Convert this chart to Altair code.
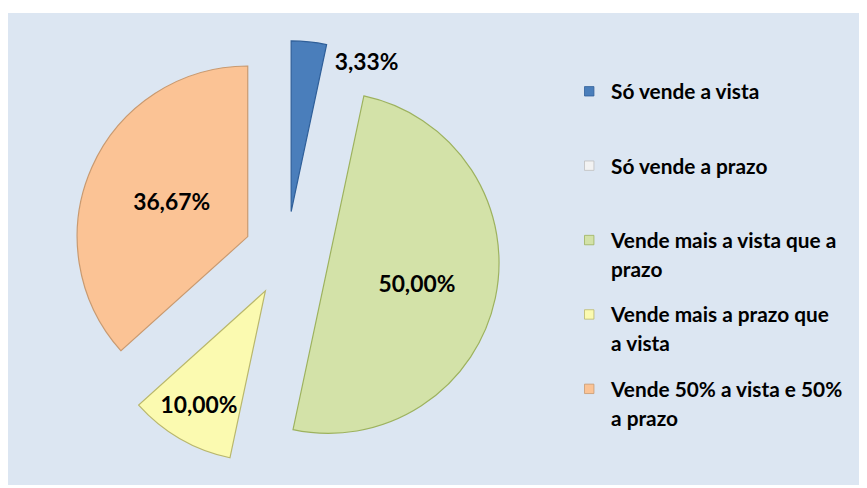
import altair as alt
import pandas as pd

# ---- data ----
categories = [
    "Só vende a vista",
    "Só vende a prazo",
    "Vende mais a vista que a prazo",
    "Vende mais a prazo que a vista",
    "Vende 50% a vista e 50% a prazo",
]
legend_text = [
    "Só vende a vista",
    "Só vende a prazo",
    "Vende mais a vista que a\nprazo",
    "Vende mais a prazo que\na vista",
    "Vende 50% a vista e 50%\na prazo",
]
values = [3.33, 0.0, 50.00, 10.00, 36.67]
value_labels = ["3,33%", "0,00%", "50,00%", "10,00%", "36,67%"]

# ---- styles ----
fills = ["#4a7ebb", "#f2f2f2", "#d3e2a8", "#fbfab0", "#fbc395"]
edges = ["#2f5f99", "#bfbfbf", "#9db25e", "#b9b76c", "#c99a70"]

df = pd.DataFrame({
    "cat": categories,
    "leg": legend_text,
    "value": values,
    "lab": value_labels,
    "i": list(range(len(categories))),
})

CX, CY, EXPLODE, R = 281, 243, 43, 172

base = alt.Chart(df).transform_window(
    cum="sum(value)", sort=[alt.SortField("i")], frame=[None, 0]
).transform_joinaggregate(
    total="sum(value)"
).transform_calculate(
    t0="2*PI*(datum.cum - datum.value)/datum.total",
    t1="2*PI*datum.cum/datum.total",
).transform_calculate(
    mid="(datum.t0 + datum.t1)/2",
).transform_calculate(
    px=f"{CX} + {EXPLODE}*sin(datum.mid)",
    py=f"{CY} - {EXPLODE}*cos(datum.mid)",
    lr="datum.value < 5 ? 168 : (datum.value < 20 ? 134 : (datum.value < 40 ? 84 : 92))",
    la="datum.mid + (datum.value < 5 ? 0.365 : (datum.value >= 40 ? 0.04 : 0))",
)

color_scale = alt.Scale(domain=categories, range=fills)
stroke_scale = alt.Scale(domain=categories, range=edges)

arcs = base.transform_filter("datum.value > 0").mark_arc(radius=R, strokeWidth=1.2).encode(
    x=alt.X("px:Q", scale=None, axis=None),
    y=alt.Y("py:Q", scale=None, axis=None),
    theta=alt.Theta("t0:Q", scale=None),
    theta2="t1:Q",
    color=alt.Color("cat:N", scale=color_scale, legend=None),
    stroke=alt.Stroke("cat:N", scale=stroke_scale, legend=None),
)

labels = base.transform_filter("datum.value > 0").transform_calculate(
    tx="datum.px + datum.lr*sin(datum.la)",
    ty="datum.py - datum.lr*cos(datum.la)",
).mark_text(font="Lato", fontWeight="bold", fontSize=23, color="black",
            align="center", baseline="middle").encode(
    x=alt.X("tx:Q", scale=None, axis=None),
    y=alt.Y("ty:Q", scale=None, axis=None),
    text="lab:N",
)

leg_base = alt.Chart(df).transform_calculate(
    ly="87 + 75*datum.i",
)

leg_sym = leg_base.transform_calculate(sy="datum.ly - 8").mark_square(size=90, opacity=1, strokeWidth=0.8).encode(
    x=alt.value(586),
    y=alt.Y("sy:Q", scale=None, axis=None),
    color=alt.Color("cat:N", scale=color_scale, legend=None),
    stroke=alt.Stroke("cat:N", scale=stroke_scale, legend=None),
)

leg_txt = leg_base.mark_text(font="Lato", fontWeight="bold", fontSize=21, color="black",
                             align="left", baseline="alphabetic", lineBreak="\n",
                             lineHeight=29).encode(
    x=alt.value(608),
    y=alt.Y("ly:Q", scale=None, axis=None),
    text="leg:N",
)

chart = alt.layer(arcs, labels, leg_sym, leg_txt).properties(
    width=858, height=476,
    padding={"left": 0, "top": 3, "right": 0, "bottom": 0},
    autosize="none",
).configure_view(fill="#dce6f2", stroke=None)

chart.save("out.html", embed_options={"renderer": "svg", "actions": False})
